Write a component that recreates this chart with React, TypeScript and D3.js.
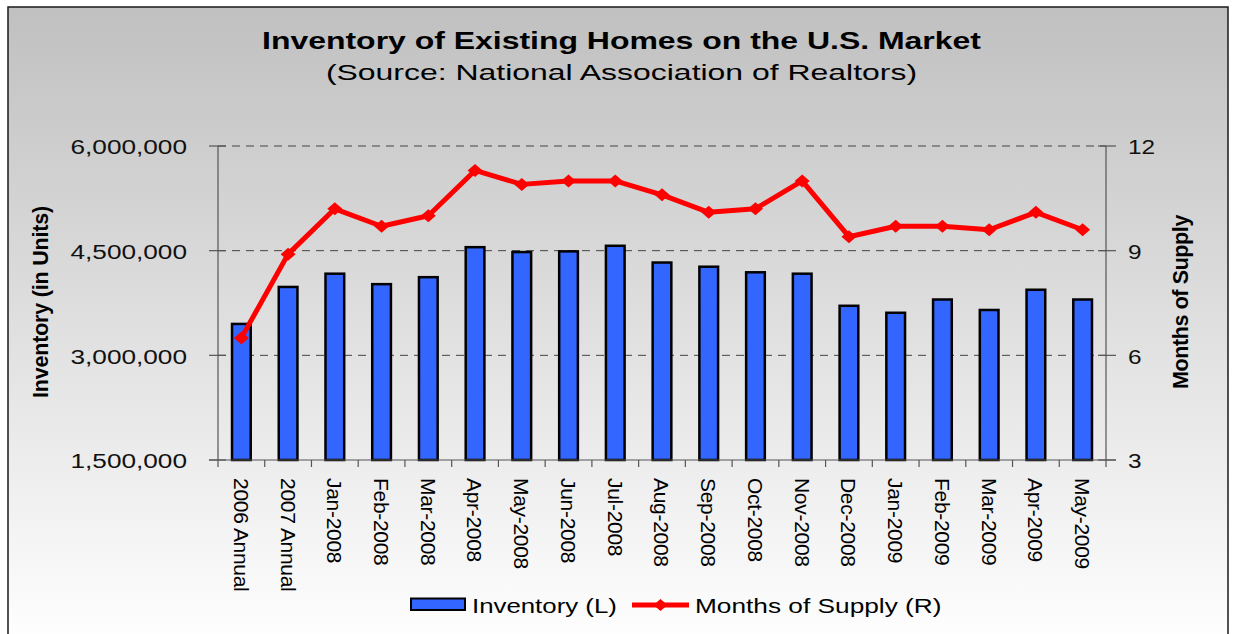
import React from 'react';
import * as d3 from 'd3';

const categories = ['2006 Annual', '2007 Annual', 'Jan-2008', 'Feb-2008', 'Mar-2008', 'Apr-2008', 'May-2008', 'Jun-2008', 'Jul-2008', 'Aug-2008', 'Sep-2008', 'Oct-2008', 'Nov-2008', 'Dec-2008', 'Jan-2009', 'Feb-2009', 'Mar-2009', 'Apr-2009', 'May-2009'];
const inventory = [3450000, 3980000, 4170000, 4020000, 4120000, 4550000, 4480000, 4490000, 4570000, 4330000, 4270000, 4190000, 4170000, 3710000, 3610000, 3800000, 3650000, 3940000, 3800000];
const monthsSupply = [6.5, 8.9, 10.2, 9.7, 10.0, 11.3, 10.9, 11.0, 11.0, 10.6, 10.1, 10.2, 11.0, 9.4, 9.7, 9.7, 9.6, 10.1, 9.6];
const leftTicks = [1500000, 3000000, 4500000, 6000000];
const rightTicks = [3, 6, 9, 12];
const title = 'Inventory of Existing Homes on the U.S. Market';
const subtitle = '(Source: National Association of Realtors)';
const leftAxisTitle = 'Inventory (in Units)';
const rightAxisTitle = 'Months of Supply';
const legendBar = 'Inventory (L)';
const legendLine = 'Months of Supply (R)';

const W = 1235, H = 634;
const plot = { left: 218, right: 1106, top: 146, bottom: 460 };
const FONT = 'Arial, "Liberation Sans", Helvetica, sans-serif';

export default function App() {
  const x = d3.scaleBand<string>().domain(categories).range([plot.left, plot.right]).padding(0);
  const yL = d3.scaleLinear().domain([1500000, 6000000]).range([plot.bottom, plot.top]);
  const yR = d3.scaleLinear().domain([3, 12]).range([plot.bottom, plot.top]);
  const fmt = d3.format(',');
  const bw = x.bandwidth();
  const barW = bw * 0.4;
  const cx = (c: string) => (x(c) as number) + bw / 2;
  const linePath = d3.line<number>().x((_, i) => cx(categories[i])).y((v) => yR(v))(monthsSupply) as string;
  const diamond = (px: number, py: number, hw = 7.5, hh = 6.5) =>
    `M${px - hw},${py}L${px},${py - hh}L${px + hw},${py}L${px},${py + hh}Z`;

  return (
    <svg width={W} height={H} style={{ position: 'absolute', left: 0, top: 0, display: 'block' }} fontFamily={FONT}>
      <defs>
        <linearGradient id="bg" x1="0" y1="0" x2="0" y2="1">
          <stop offset="0" stopColor="#c0c0c0" />
          <stop offset="1" stopColor="#ffffff" />
        </linearGradient>
      </defs>
      <rect x={0} y={0} width={W} height={H} fill="#ffffff" />
      <rect x={8} y={7} width={1220} height={640} fill="url(#bg)" stroke="#1a1a1a" strokeWidth={1.5} />

      {/* Titles */}
      <text transform="translate(621.5,49) scale(1.39,1)" textAnchor="middle" fontSize={23} fontWeight="bold" fill="#000">{title}</text>
      <text transform="translate(621.5,80) scale(1.42,1)" textAnchor="middle" fontSize={22.5} fill="#000">{subtitle}</text>

      {/* Gridlines */}
      {leftTicks.slice(1).map((t) => (
        <line key={t} x1={plot.left} x2={plot.right} y1={yL(t)} y2={yL(t)} stroke="#444" strokeWidth={1} strokeDasharray="8,6" />
      ))}

      {/* Bars */}
      {categories.map((c, i) => (
        <rect key={c} x={cx(c) - barW / 2} y={yL(inventory[i])} width={barW} height={plot.bottom - yL(inventory[i])}
          fill="#3366ff" stroke="#000" strokeWidth={2.5} />
      ))}

      {/* Axes */}
      <line x1={plot.left} x2={plot.left} y1={plot.top} y2={plot.bottom} stroke="#555" strokeWidth={1.2} />
      <line x1={plot.right} x2={plot.right} y1={plot.top} y2={plot.bottom} stroke="#555" strokeWidth={1.2} />
      <line x1={plot.left - 9} x2={plot.right + 10} y1={plot.bottom} y2={plot.bottom} stroke="#555" strokeWidth={1.2} />
      {leftTicks.map((t) => (
        <g key={t}>
          <line x1={plot.left - 9} x2={plot.left + 8} y1={yL(t)} y2={yL(t)} stroke="#555" strokeWidth={1.2} />
          <text transform={`translate(187,${yL(t) + 8.3}) scale(1.31,1)`} textAnchor="end" fontSize={20} fill="#111">{fmt(t)}</text>
        </g>
      ))}
      {rightTicks.map((t) => (
        <g key={t}>
          <line x1={plot.right - 8} x2={plot.right + 10} y1={yR(t)} y2={yR(t)} stroke="#555" strokeWidth={1.2} />
          <text transform={`translate(1128,${yR(t) + 8.3}) scale(1.22,1)`} fontSize={20} fill="#111">{t}</text>
        </g>
      ))}
      {d3.range(categories.length + 1).map((i) => {
        const xx = plot.left + i * bw;
        return <line key={i} x1={xx} x2={xx} y1={plot.bottom} y2={plot.bottom + 7} stroke="#555" strokeWidth={1.2} />;
      })}

      {/* Category labels */}
      {categories.map((c) => (
        <text key={c} transform={`translate(${cx(c)},${478}) rotate(90)`} dy="0.36em" fontSize={21} letterSpacing={-0.3} fill="#000">{c}</text>
      ))}

      {/* Axis titles */}
      <text transform={`translate(40,302) rotate(-90)`} textAnchor="middle" dy="0.36em" fontSize={21.5} fontWeight="bold" letterSpacing={-0.2} fill="#000">{leftAxisTitle}</text>
      <text transform={`translate(1180,302) rotate(-90)`} textAnchor="middle" dy="0.36em" fontSize={21.5} fontWeight="bold" letterSpacing={-0.4} fill="#000">{rightAxisTitle}</text>

      {/* Line */}
      <path d={linePath} fill="none" stroke="#ff0000" strokeWidth={5} strokeLinejoin="round" />
      {monthsSupply.map((v, i) => (
        <path key={i} d={diamond(cx(categories[i]), yR(v))} fill="#ff0000" />
      ))}

      {/* Legend */}
      <rect x={411} y={598.5} width={54} height={11.5} fill="#3366ff" stroke="#000" strokeWidth={2} />
      <text transform="translate(472,613) scale(1.23,1)" fontSize={21} fill="#000">{legendBar}</text>
      <line x1={632} x2={689} y1={605} y2={605} stroke="#ff0000" strokeWidth={5} />
      <path d={diamond(660.5, 605, 7, 6)} fill="#ff0000" />
      <text transform="translate(695,613) scale(1.25,1)" fontSize={21} fill="#000">{legendLine}</text>
    </svg>
  );
}
